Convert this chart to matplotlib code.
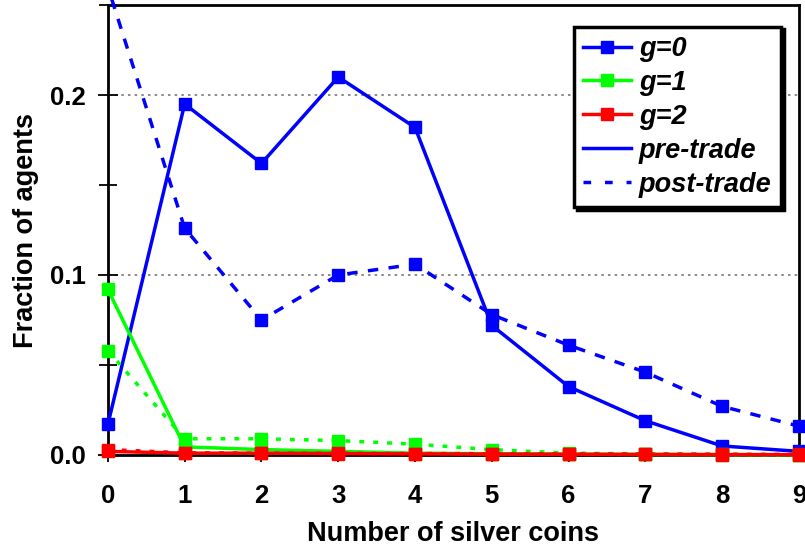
import matplotlib
matplotlib.use("Agg")
import matplotlib.pyplot as plt
from matplotlib.lines import Line2D
from matplotlib.ticker import MultipleLocator

plt.rcParams['font.family'] = ['Liberation Sans', 'DejaVu Sans']

coins = [0, 1, 2, 3, 4, 5, 6, 7, 8, 9]
g0_pre = [0.017, 0.195, 0.162, 0.210, 0.182, 0.072, 0.038, 0.019, 0.005, 0.002]
g0_post = [0.26, 0.126, 0.075, 0.100, 0.106, 0.078, 0.061, 0.046, 0.027, 0.016]
g1_pre = [0.092, 0.0045, 0.003, 0.002, 0.001, 0.0007, 0.0005, 0.0003, 0.0002, 0.0001]
g1_post = [0.058, 0.009, 0.009, 0.008, 0.006, 0.003, 0.001, 0.0006, 0.0003, 0.0001]
g2_pre = [0.002, 0.001, 0.001, 0.0008, 0.0006, 0.0005, 0.0004, 0.0003, 0.0002, 0.0002]
g2_post = [0.003, 0.0012, 0.001, 0.0009, 0.0008, 0.0007, 0.0006, 0.0005, 0.0004, 0.0003]
series_labels = ['g=0', 'g=1', 'g=2', 'pre-trade', 'post-trade']
y_ticks = [0.0, 0.1, 0.2]
y_ticklabels = ['0.0', '0.1', '0.2']

colors = {'g0': '#0000FF', 'g1': '#00FF00', 'g2': '#FF0000'}

fig = plt.figure(figsize=(8.05, 5.46), dpi=100)
ax = fig.add_axes([0.134, 0.1667, 0.8585, 0.8241])

lw = 2.5
ms = 8.3
series = [
    (g0_pre, g0_post, colors['g0'], (0, (3.0, 3.0))),
    (g1_pre, g1_post, colors['g1'], (0, (1.4, 2.6))),
    (g2_pre, g2_post, colors['g2'], (0, (1.4, 2.6))),
]
z = 3
for pre, post, c, dash in series:
    ax.plot(coins, post, color=c, lw=lw, ls=dash, marker='s', ms=ms,
            clip_on=False, zorder=z)
    ax.plot(coins, pre, color=c, lw=lw, ls='-', marker='s', ms=ms,
            clip_on=False, zorder=z + 0.5)
    z += 1

ax.set_xlim(0, 9)
ax.set_ylim(0, 0.25)
ax.set_xticks(coins)
ax.set_yticks(y_ticks)
ax.set_yticklabels(y_ticklabels)
ax.yaxis.set_minor_locator(MultipleLocator(0.05))
ax.tick_params(axis='y', which='major', direction='inout', length=14, width=1.3, pad=9)
ax.tick_params(axis='y', which='minor', direction='inout', length=13, width=1.3)
ax.tick_params(axis='x', which='major', direction='out', length=5, width=1.3, pad=16)
for lab in ax.get_xticklabels() + ax.get_yticklabels():
    lab.set_fontsize(18.5)
    lab.set_fontweight('bold')

for y in [0.1, 0.2]:
    ax.axhline(y, color='#777777', lw=1.2, ls=(0, (1.5, 2.5)), zorder=1)

for s in ax.spines.values():
    s.set_linewidth(2)

ax.set_xlabel('Number of silver coins', fontsize=19.5, fontweight='bold', labelpad=9)
ax.set_ylabel('Fraction of agents', fontsize=19.5, fontweight='bold', labelpad=8)

handles = [
    Line2D([], [], color=colors['g0'], lw=lw, marker='s', ms=ms),
    Line2D([], [], color=colors['g1'], lw=lw, marker='s', ms=ms),
    Line2D([], [], color=colors['g2'], lw=lw, marker='s', ms=ms),
    Line2D([], [], color=colors['g0'], lw=lw, ls='-'),
    Line2D([], [], color=colors['g0'], lw=lw, ls=(0, (2.2, 4.0))),
]
leg = ax.legend(handles, series_labels, loc='upper right', bbox_to_anchor=(0.974, 0.952),
                frameon=True, fancybox=False, shadow={'color': 'black', 'alpha': 1.0},
                handlelength=1.75, handletextpad=0.3, labelspacing=0.29, borderpad=0.35,
                borderaxespad=0.0,
                prop={'size': 19.5, 'weight': 'bold', 'style': 'italic'})
leg.get_frame().set_edgecolor('black')
leg.get_frame().set_linewidth(2.5)
leg.set_zorder(10)

fig.savefig('out.png', dpi=100)
